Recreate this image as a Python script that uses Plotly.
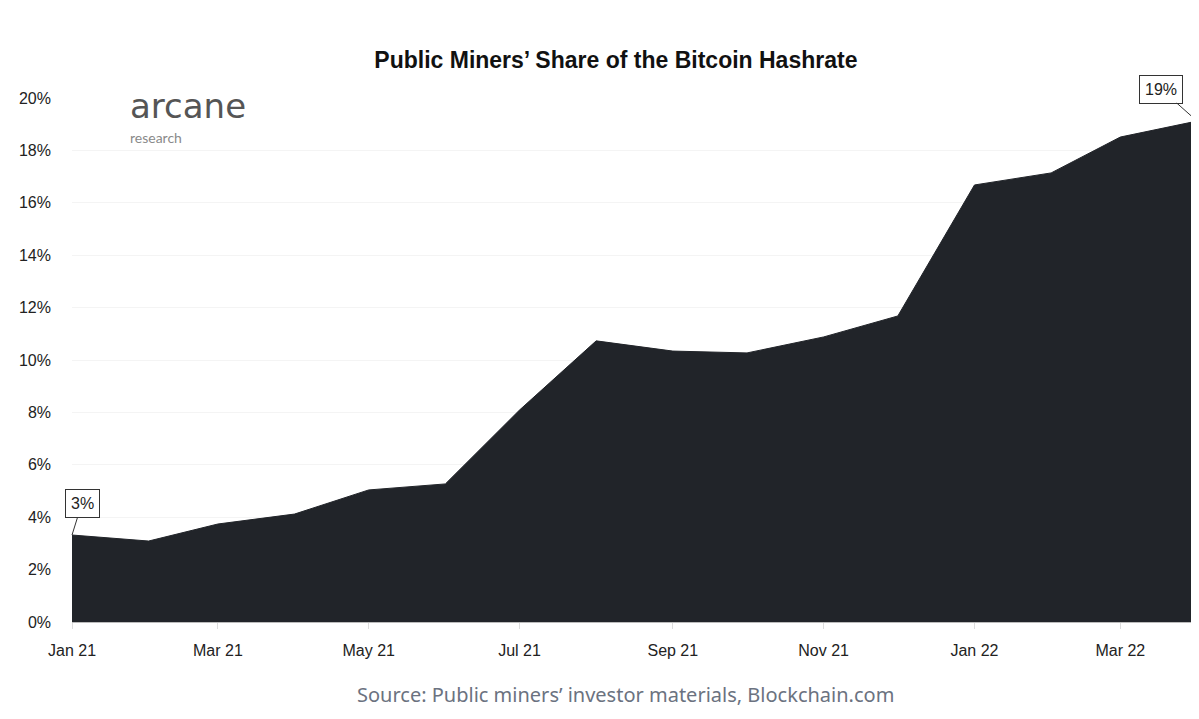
import plotly.graph_objects as go

# Monthly share of hashrate held by public miners (%)
months = ["2021-01-01", "2021-02-01", "2021-03-01", "2021-04-01", "2021-05-01",
          "2021-06-01", "2021-07-01", "2021-08-01", "2021-09-01", "2021-10-01",
          "2021-11-01", "2021-12-01", "2022-01-01", "2022-02-01", "2022-03-01",
          "2022-04-01"]
share = [3.32, 3.09, 3.74, 4.12, 5.04, 5.27, 8.09, 10.73, 10.34, 10.27,
         10.88, 11.68, 16.68, 17.14, 18.51, 19.12]

tick_vals = ["2021-01-01", "2021-03-01", "2021-05-01", "2021-07-01",
             "2021-09-01", "2021-11-01", "2022-01-01", "2022-03-01"]
tick_text = ["Jan 21", "Mar 21", "May 21", "Jul 21", "Sep 21", "Nov 21", "Jan 22", "Mar 22"]
y_ticks = [0, 2, 4, 6, 8, 10, 12, 14, 16, 18, 20]

fig = go.Figure()
fig.add_trace(go.Scatter(
    x=months, y=share, mode="lines", fill="tozeroy",
    line=dict(color="#212429", width=1), fillcolor="#212429",
    hoverinfo="x+y", showlegend=False,
))

# start / end labels in boxes
box_font = dict(family="Liberation Sans, Arial", size=16, color="#222")
fig.add_annotation(x=months[0], y=share[0], text="3%", showarrow=True,
                   arrowhead=0, arrowwidth=1, arrowcolor="#333", ax=10, ay=-32,
                   bordercolor="#333", borderwidth=1, borderpad=5, bgcolor="white",
                   font=box_font)
fig.add_annotation(x=months[-1], y=share[-1], text="19%", showarrow=True,
                   arrowhead=0, arrowwidth=1, arrowcolor="#333", ax=-36, ay=-32,
                   bordercolor="#333", borderwidth=1, borderpad=5, bgcolor="white",
                   font=box_font)

# logo
fig.add_annotation(xref="paper", yref="paper", x=0.05, y=0.984, xanchor="left", yanchor="middle",
                   text="arcane", showarrow=False,
                   font=dict(family="DejaVu Sans", size=34, color="#555555"))
fig.add_annotation(xref="paper", yref="paper", x=0.05, y=0.925, xanchor="left", yanchor="middle",
                   text="research", showarrow=False,
                   font=dict(family="Lato", size=14, color="#8a8a8a"))

# source
fig.add_annotation(xref="paper", yref="paper", x=0.492, y=-0.139, xanchor="center", yanchor="middle",
                   text="Source: Public miners’ investor materials, Blockchain.com", showarrow=False,
                   font=dict(family="Noto Sans", size=20, color="#6b7280"))

fig.update_layout(
    width=1199, height=719,
    paper_bgcolor="white", plot_bgcolor="white",
    margin=dict(l=64, r=10, t=90, b=105),
    title=dict(text="<b>Public Miners’ Share of the Bitcoin Hashrate</b>",
               x=0.507, xanchor="center", y=0.928, yanchor="middle",
               font=dict(family="Liberation Sans, Arial", size=23, color="#111")),
    font=dict(family="Liberation Sans, Arial", size=16, color="#222"),
)
fig.update_xaxes(
    type="date", range=["2021-01-01", "2022-04-01"],
    tickvals=tick_vals, ticktext=tick_text,
    showgrid=False, showline=True, linecolor="#bbb", linewidth=1,
    ticks="outside", ticklen=6, tickcolor="#ddd", ticklabelstandoff=8,
)
fig.update_yaxes(
    range=[0, 20], tickvals=y_ticks, ticktext=[f"{v}%" for v in y_ticks],
    showgrid=True, gridcolor="#f4f4f4", zeroline=False,
    ticks="", ticklabelstandoff=20,
)

fig.write_html("out.html")
